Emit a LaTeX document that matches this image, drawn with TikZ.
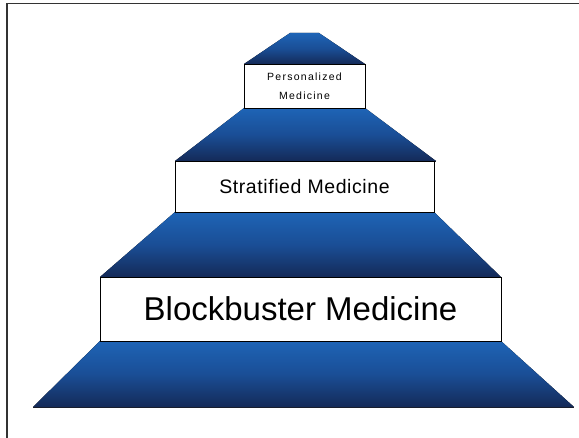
\documentclass[tikz,border=0pt]{standalone}
\usepackage{fontspec}
\setmainfont{Liberation Sans}
\newfontfamily\spacedfont[LetterSpace=12]{Liberation Sans}
\newfontfamily\midspacedfont[LetterSpace=3]{Liberation Sans}
\definecolor{toplight}{RGB}{30,100,182}
\definecolor{midblue}{RGB}{26,78,150}
\definecolor{botdark}{RGB}{20,42,88}
\definecolor{edgedark}{RGB}{25,30,45}
\tikzset{
  tier/.style={top color=toplight, bottom color=botdark, middle color=midblue, draw=none},
  tieredge/.style={draw=edgedark, line width=0.8pt},
  band/.style={draw=black, line width=0.6pt, fill=white, inner sep=0pt, anchor=center},
  frameline/.style={draw=black!80, line width=1.2pt}
}
\begin{document}
\begin{tikzpicture}[x=1pt,y=-1pt]
\useasboundingbox (0,0) rectangle (579,438);
\fill[white] (0,0) rectangle (579,438);
% frame
\draw[frameline] (7,438) -- (7,3.5) -- (579,3.5);
% tiers
\fill[tier] (290,33) -- (319,33) -- (365,64) -- (244,64) -- cycle;
\fill[tier] (244,108) -- (365,108) -- (436,161) -- (175,161) -- cycle;
\fill[tier] (175,212) -- (434,212) -- (501,277) -- (100,277) -- cycle;
\fill[tier] (100,341) -- (501,341) -- (574,407) -- (33,407) -- cycle;
\draw[tieredge] (244,64) -- (365,64);
\draw[tieredge] (175,161) -- (436,161);
\draw[tieredge] (100,277) -- (501,277);
\draw[tieredge] (33,407) -- (574,407);
% bands
\node[band, minimum width=121pt, minimum height=44pt, align=center,
      font=\fontsize{10.5}{18.5}\selectfont\spacedfont] (pers) at (304.5,86.5)
  {Personalized\\Medicine};
\node[band, minimum width=259pt, minimum height=51pt,
      font=\fontsize{19.5}{22}\selectfont\midspacedfont] (strat) at (304.5,186.5)
  {Stratified Medicine};
\node[band, minimum width=401pt, minimum height=64pt,
      font=\fontsize{33}{36}\selectfont] (block) at (300.5,309)
  {Blockbuster Medicine};
\end{tikzpicture}
\end{document}
